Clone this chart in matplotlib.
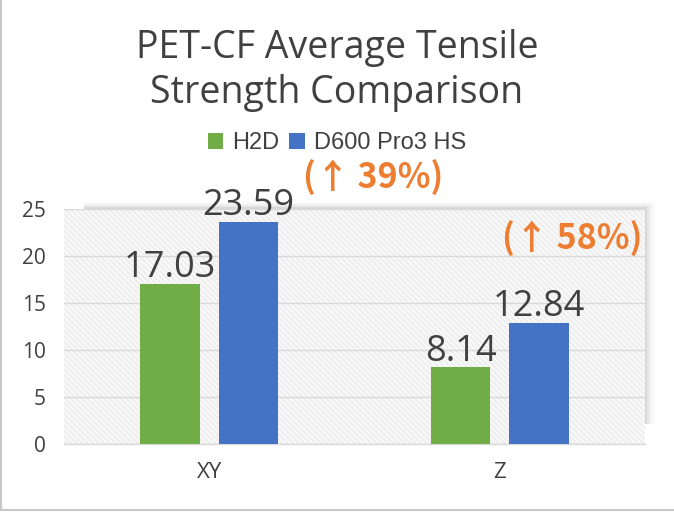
import matplotlib
matplotlib.use("Agg")
import matplotlib.pyplot as plt
from matplotlib.patches import Rectangle
from matplotlib.lines import Line2D
import numpy as np

categories = ["XY", "Z"]
series_names = ["H2D", "D600 Pro3 HS"]
h2d = [17.03, 8.14]
d600 = [23.59, 12.84]
gains = ["(↑ 39%)", "(↑ 58%)"]
title_lines = ["PET-CF Average Tensile", "Strength Comparison"]
yticks = [0, 5, 10, 15, 20, 25]

GREEN = "#70ad47"
BLUE = "#4472c4"
ORANGE = "#ed7d31"
TXT = "#404040"

plt.rcParams['hatch.color'] = '#efefef'
plt.rcParams['hatch.linewidth'] = 2.0

fig = plt.figure(figsize=(6.74, 5.12), dpi=100)
fig.patch.set_facecolor("white")

L, R, B, T = 64/674, 645/674, 1-444/512, 1-209/512
ax = fig.add_axes([L, B, R-L, T-B])
ax.set_xlim(-0.5, 1.5)
ax.set_ylim(0, 25)

# soft shadow around plot area
for i, a in enumerate([0.05, 0.04, 0.03, 0.02, 0.012]):
    d = (i + 1) * 2
    fig.patches.append(Rectangle((R, B + 0.04), d/674, T - B - 0.04,
                                 transform=fig.transFigure, facecolor="black",
                                 alpha=a, edgecolor="none", zorder=0))
    fig.patches.append(Rectangle((L + 0.03, T), R - L - 0.03 + d/674, d/512 * 0.8,
                                 transform=fig.transFigure, facecolor="black",
                                 alpha=a, edgecolor="none", zorder=0))

ax.patch.set_facecolor("white")
bg = Rectangle((0, 0), 1, 1, transform=ax.transAxes, facecolor="white",
               edgecolor="#efefef", linewidth=0, hatch="\\\\\\\\\\\\", zorder=0)
ax.add_patch(bg)

x = np.arange(len(categories))
w = 0.206
off = 0.135
b1 = ax.bar(x - off, h2d, w, color=GREEN, zorder=3, label=series_names[0])
b2 = ax.bar(x + off, d600, w, color=BLUE, zorder=3, label=series_names[1])

ax.set_yticks(yticks)
ax.yaxis.grid(True, color="#d9d9d9", linewidth=1.0, zorder=1)
ax.set_axisbelow(True)
for s in ["top", "right", "left"]:
    ax.spines[s].set_visible(False)
ax.spines["bottom"].set_color("#d9d9d9")
ax.spines["bottom"].set_linewidth(1.0)
ax.set_xticks(x)
ax.set_xticklabels(categories)
ax.tick_params(axis="both", length=0, colors=TXT, labelsize=15)
ax.tick_params(axis="x", labelsize=16, pad=13)
ax.tick_params(axis="y", pad=13)
for lab in ax.get_xticklabels() + ax.get_yticklabels():
    lab.set_fontfamily("Open Sans")

for bars, vals in [(b1, h2d), (b2, d600)]:
    for rect, v in zip(bars, vals):
        ax.annotate(f"{v:.2f}", (rect.get_x() + rect.get_width()/2, v),
                    xytext=(0, 5), textcoords="offset points", ha="center",
                    va="baseline", fontsize=26, color=TXT, family="Open Sans",
                    annotation_clip=False)

gain_pos = [(0.565, 28.4), (1.249, 21.9)]
for g, (gx, gy) in zip(gains, gain_pos):
    ax.text(gx, gy, g, ha="center", va="center", fontsize=24.5, fontweight="bold",
            color=ORANGE, family=["Noto Sans CJK SC", "DejaVu Sans"], clip_on=False)

fig.text(0.5, 1 - 58/512, title_lines[0], ha="center", va="baseline",
         fontsize=27, color=TXT, family="Open Sans")
fig.text(0.5, 1 - 103/512, title_lines[1], ha="center", va="baseline",
         fontsize=27, color=TXT, family="Open Sans")

leg = fig.legend(handles=[b1, b2], loc="center", bbox_to_anchor=(0.5, 1 - 143/512),
                 ncol=2, frameon=False, handlelength=0.65, handleheight=0.65,
                 handletextpad=0.4, columnspacing=0.4,
                 prop={"family": "Liberation Sans", "size": 17})
for t in leg.get_texts():
    t.set_color(TXT)

fig.add_artist(Line2D([0.5/674, 0.5/674], [1 - 509/512, 1], transform=fig.transFigure,
                      color="#c8c8c8", linewidth=1.5))
fig.add_artist(Line2D([0, 1], [1 - 509.5/512, 1 - 509.5/512], transform=fig.transFigure,
                      color="#c8c8c8", linewidth=1.5))

fig.savefig("out.png", dpi=100, facecolor="white")
